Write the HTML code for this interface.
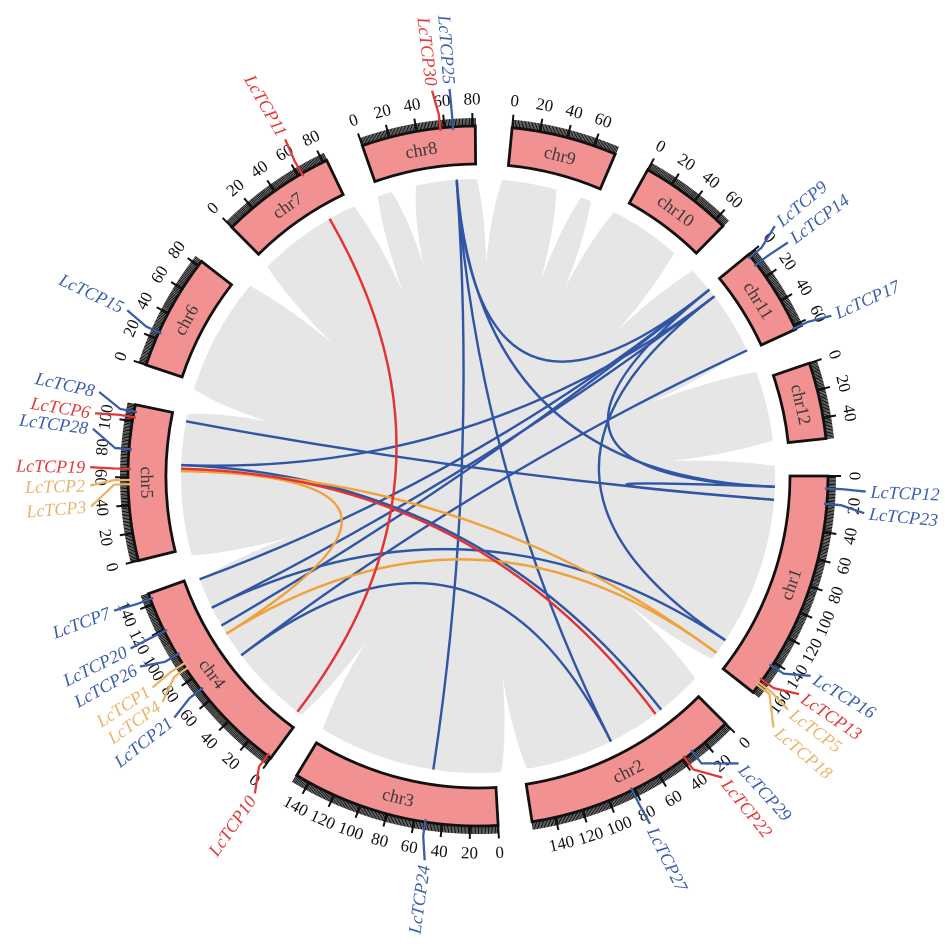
<!DOCTYPE html>
<html><head><meta charset="utf-8"><style>
html,body{margin:0;padding:0;background:#fff;}
svg{display:block;font-family:"Liberation Serif",serif;}
</style></head><body>
<svg id="chart" width="945" height="952" viewBox="0 0 945 952" xmlns="http://www.w3.org/2000/svg">
<g id="bg"></g>
<g id="links"></g>
<g id="chrs"></g>
<g id="genes"></g>
</svg>
<script>
const chrNames=["chr1","chr2","chr3","chr4","chr5","chr6","chr7","chr8","chr9","chr10","chr11","chr12"];
const chrLengths=[166,157,150,148,112,84,83,82,76,67,63,55];
const chrStartDeg=[90,135,176.7,216.3,256,288.5,315.3,340.7,5.6,29,50.7,71.2];
const geneNames=["LcTCP12","LcTCP23","LcTCP16","LcTCP13","LcTCP5","LcTCP18","LcTCP29","LcTCP22","LcTCP27","LcTCP24","LcTCP10","LcTCP21","LcTCP4","LcTCP1","LcTCP26","LcTCP20","LcTCP7","LcTCP3","LcTCP2","LcTCP19","LcTCP28","LcTCP6","LcTCP8","LcTCP15","LcTCP11","LcTCP30","LcTCP25","LcTCP9","LcTCP14","LcTCP17"];
const geneChr=[0,0,0,0,0,0,1,1,1,2,3,3,3,3,3,3,3,4,4,4,4,4,4,5,6,7,7,10,10,10];
const genePos=[9,20,143,155,158,160,31,38,82,52,3,70,88,92,100,119,144,55,58,66,80,103,107,25,63,57,66,2,9,62];
const geneType=["b","b","b","r","o","o","b","r","b","b","r","b","o","o","b","b","b","o","o","r","b","r","b","b","r","r","b","b","b","b"];
const labelDeg=[92.3,95.5,121,124.2,127,130.4,137.8,141,153.7,187.9,215.1,231.5,234.4,237,240.6,243.6,249.7,265.5,268.6,271.3,277,279.3,282.5,295.3,330.2,353.2,355.8,49.9,53,65.6];
const linkChrA=[7,7,7,7,10,10,10,10,10,10,4,4,4,0,3,3, 4,4,3, 6,4];
const linkPosA=[66,66,66,66,2,9,2,9,2,62,70,70,107,9,119,72, 65,65,94, 64,67];
const linkChrB=[2,1,10,0,0,0,3,3,3,3,10,1,0,0,0,1, 0,3,0, 3,1];
const linkPosB=[52,80,2,9,9,146,145,119,102,72,9,30,20,20,146,80, 159,94,159, 5,36];
const linkType=["b","b","b","b","b","b","b","b","b","b","b","b","b","b","b","b","o","o","o","r","r"];

const NS="http://www.w3.org/2000/svg";
const cx=478,cy=476,RO=350,RI=312,RL=297,K=0.23;
const linkCol={b:"#2f55a4",r:"#e23232",o:"#f0a23a"};
const labCol={b:"#3a5ea8",r:"#e03a3a",o:"#e9b46a"};
function ang(c,p){return chrStartDeg[c]+p*K;}
function pt(r,d){const a=d*Math.PI/180;return [cx+r*Math.sin(a),cy-r*Math.cos(a)];}
function el(tag,attrs,parent){const e=document.createElementNS(NS,tag);for(const k in attrs)e.setAttribute(k,attrs[k]);parent.appendChild(e);return e;}
function f(v){return v.toFixed(2);}

const bg=document.getElementById("bg");
const disk=el("circle",{cx:cx,cy:cy,r:RL,fill:"#e6e6e6"},bg);


const notchDeg=[312.3,337.8,345.5,2.2,17.8,24.8,43.8,67,85.6,130.5,173,214,252,284.5];
const notchR=[197,199,219,212,206,207,201,189,195,197,204,200,199,216];
notchDeg.forEach((d,i)=>{
  const a=pt(RL+3,d-2.6),b=pt(RL+3,d+2.6),t=pt(notchR[i],d);
  const m1=pt((RL+notchR[i])/2+10,d-0.6),m2=pt((RL+notchR[i])/2+10,d+0.6);
  const n=el("path",{d:`M${f(a[0])},${f(a[1])} Q${f(m1[0])},${f(m1[1])} ${f(t[0])},${f(t[1])} Q${f(m2[0])},${f(m2[1])} ${f(b[0])},${f(b[1])} Z`,fill:"#fff"},bg);
  
  
});

const lg=document.getElementById("links");
["b","o","r"].forEach(tp=>{
  linkType.forEach((t,i)=>{
    if(t!==tp)return;
    const a=pt(RL,ang(linkChrA[i],linkPosA[i])),b=pt(RL,ang(linkChrB[i],linkPosB[i]));
    const p=el("path",{d:`M${f(a[0])},${f(a[1])} Q${cx},${cy} ${f(b[0])},${f(b[1])}`,fill:"none",stroke:linkCol[t],"stroke-width":2.4},lg);
    
    
  });
});

const cg=document.getElementById("chrs");
function rot(d){return (d>90.5&&d<270)?d-180:d;}
chrNames.forEach((nm,i)=>{
  const s=chrStartDeg[i],e=ang(i,chrLengths[i]);
  const g=el("g",{},cg);
  
  
  const o1=pt(RO,s),o2=pt(RO,e),i2=pt(RI,e),i1=pt(RI,s);
  const box=el("path",{d:`M${f(o1[0])},${f(o1[1])} A${RO},${RO} 0 0 1 ${f(o2[0])},${f(o2[1])} L${f(i2[0])},${f(i2[1])} A${RI},${RI} 0 0 0 ${f(i1[0])},${f(i1[1])} Z`,fill:"#f29191",stroke:"#111","stroke-width":2.8},g);
  
  
  let td="",tm="";
  for(let p=0;p<=chrLengths[i];p+=1){
    const d=ang(i,p);const maj=p%20===0;
    const a=pt(RO,d),b=pt(RO+(maj?13:8),d);
    if(maj) tm+=`M${f(a[0])},${f(a[1])}L${f(b[0])},${f(b[1])}`;
    else td+=`M${f(a[0])},${f(a[1])}L${f(b[0])},${f(b[1])}`;
  }
  const ticks=el("path",{d:td,stroke:"#111","stroke-width":1.1,fill:"none"},g);
  
  
  const mt=el("path",{d:tm,stroke:"#111","stroke-width":2,fill:"none"},g);
  
  
  for(let p=0;p<=chrLengths[i];p+=20){
    const d=ang(i,p);const q=pt(RO+27,d);
    const t=el("text",{x:f(q[0]),y:f(q[1]),"font-size":17,"text-anchor":"middle","dominant-baseline":"central",fill:"#111",transform:`rotate(${f(rot(d))} ${f(q[0])} ${f(q[1])})`},g);
    t.textContent=String(p);
    
    
  }
  const md=(s+e)/2,mq=pt((RO+RI)/2,md);
  const lt=el("text",{x:f(mq[0]),y:f(mq[1]),"font-size":18,"text-anchor":"middle","dominant-baseline":"central",fill:"#3a3a3a",transform:`rotate(${f(rot(md))} ${f(mq[0])} ${f(mq[1])})`},g);
  lt.textContent=nm;
  
  
});

const gg=document.getElementById("genes");
geneNames.forEach((nm,i)=>{
  const d=ang(geneChr[i],genePos[i]),ld=labelDeg[i],c=labCol[geneType[i]];
  const a=pt(RO-3,d),b=pt(RO+14,d),t=pt(388,ld),q=pt(393,ld);
  const ln=el("polyline",{points:`${f(a[0])},${f(a[1])} ${f(b[0])},${f(b[1])} ${f(t[0])},${f(t[1])}`,fill:"none",stroke:c,"stroke-width":2.3},gg);
  
  
  const right=ld<180;
  const r=right?ld-90:ld-270;
  const tx=el("text",{x:f(q[0]),y:f(q[1]),"font-size":18,"font-style":"italic","text-anchor":right?"start":"end","dominant-baseline":"central",fill:c,transform:`rotate(${f(r)} ${f(q[0])} ${f(q[1])})`},gg);
  tx.textContent=nm;
  
  
});
</script>
</body></html>
